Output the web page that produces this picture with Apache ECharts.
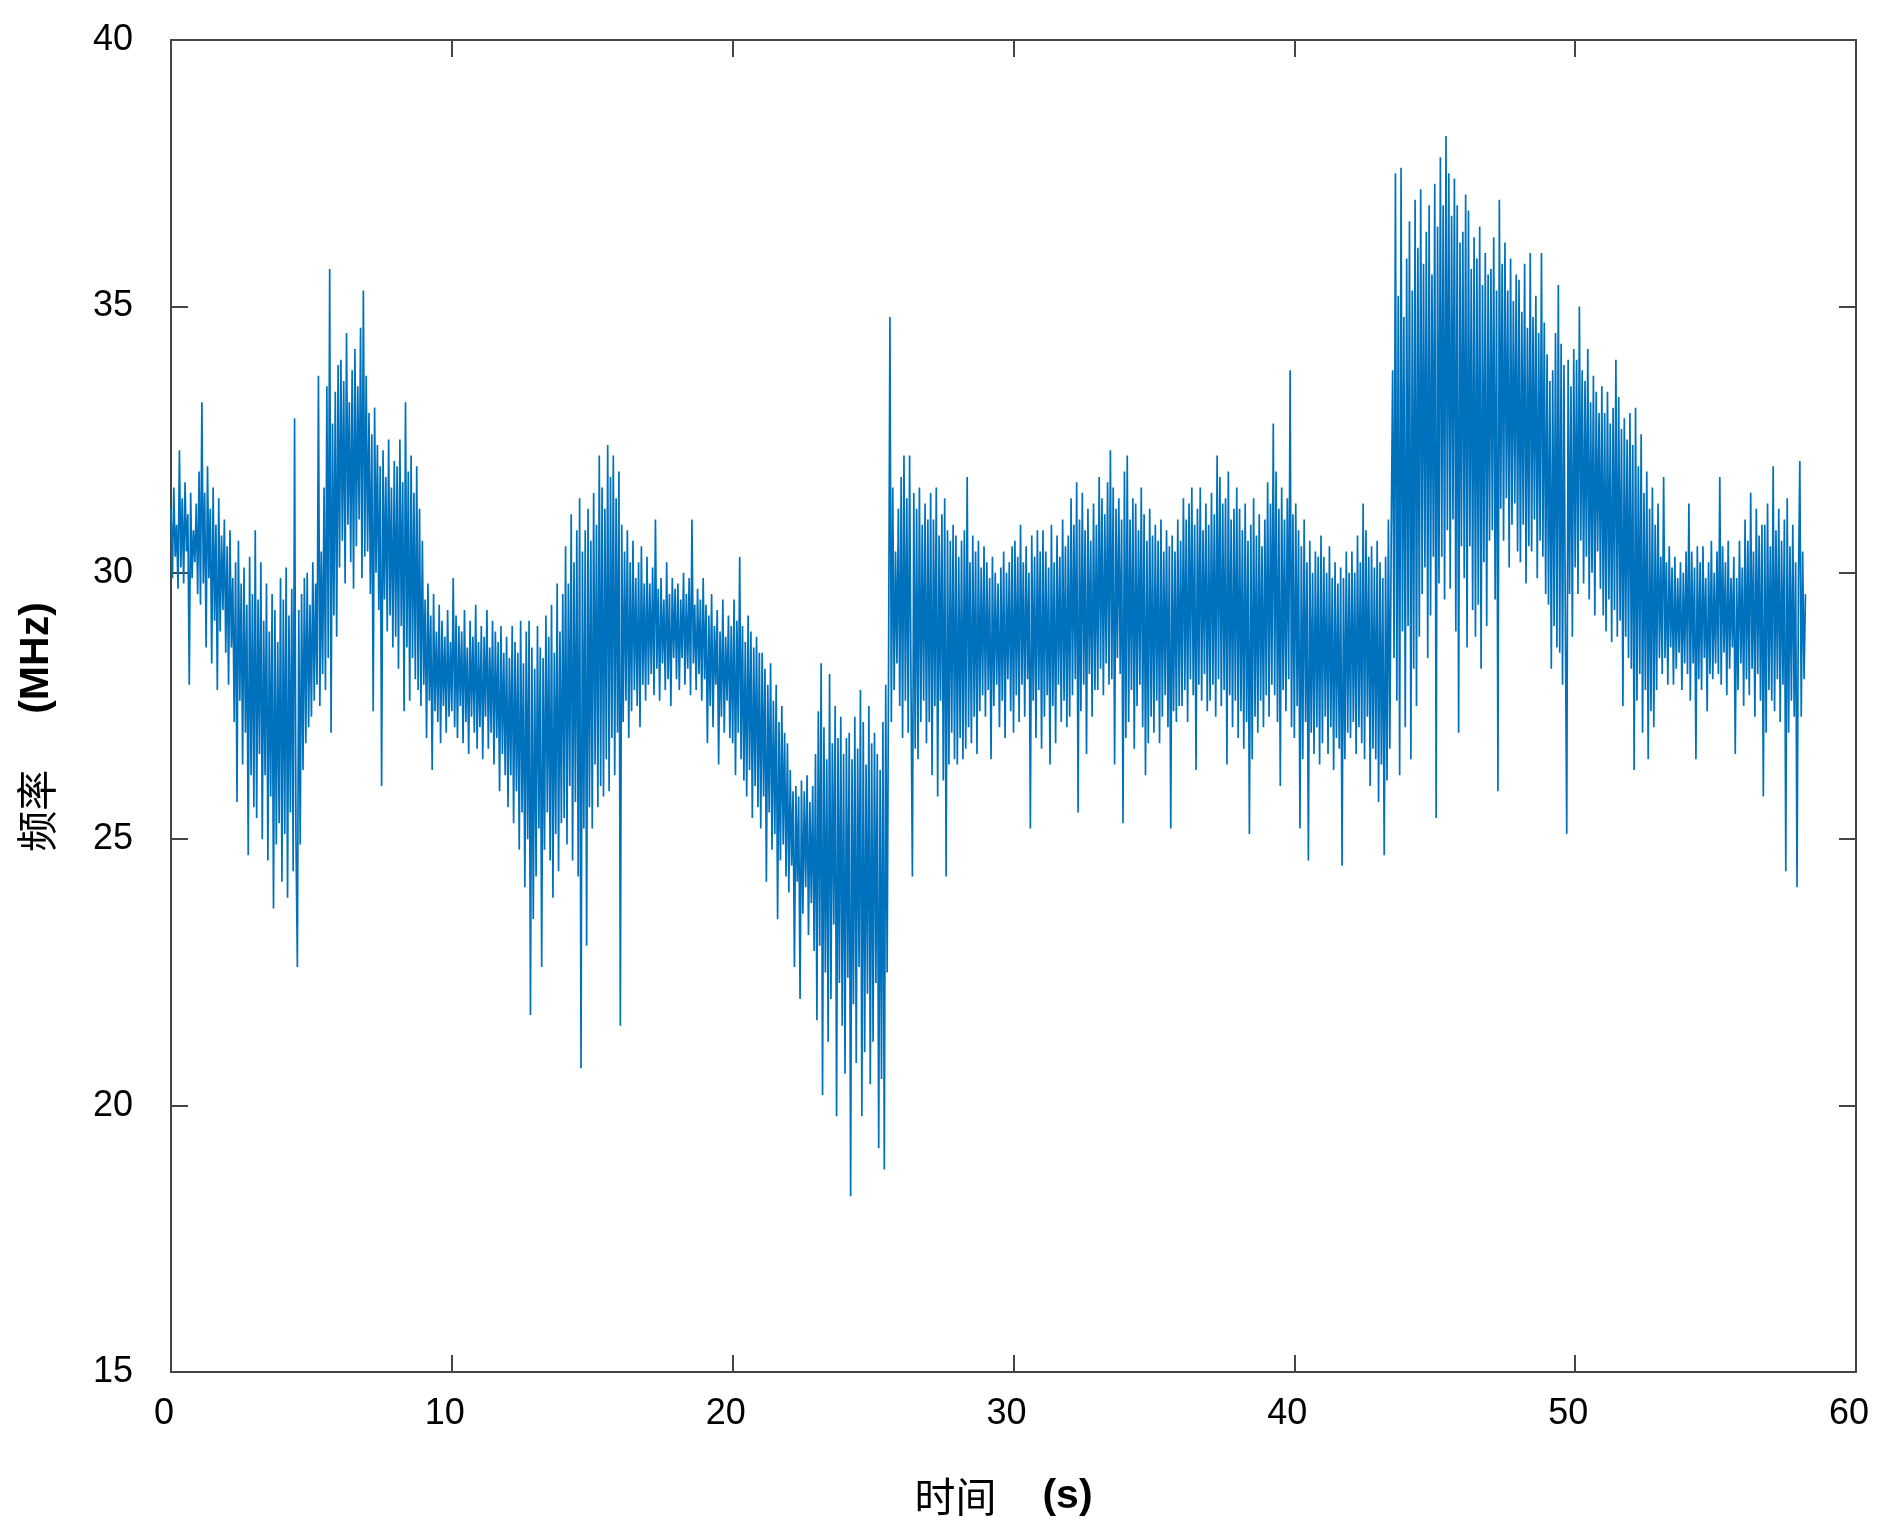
<!DOCTYPE html>
<html>
<head>
<meta charset="utf-8">
<script src="https://cdn.jsdelivr.net/npm/echarts@6/dist/echarts.min.js"></script>
<style>
html,body{margin:0;padding:0;background:#fff;}
#chart{width:1883px;height:1534px;}
</style>
</head>
<body>
<div id="chart"></div>
<script>
// sampling step of the time axis (s)
const sampleStep = 0.05;
// frequency readings (MHz), one 5-second block per array (20 readings per second)
const blk00 = [
31.2,29.9,31.6,30.3,30.9,29.7,32.3,30.1,31.4,29.8,31.7,30.4,31.1,27.9,31.5,29.9,30.8,30.2,31.3,29.6,
31.9,29.4,33.2,29.8,31.5,28.6,32.0,29.9,31.2,28.3,31.6,29.1,30.9,27.8,31.4,28.9,30.7,29.3,31.0,28.5,
30.5,27.9,30.8,28.6,29.9,27.2,30.2,25.7,30.6,27.6,29.8,26.4,30.1,27.0,29.4,24.7,30.3,26.2,29.6,25.6,
30.8,25.4,29.5,26.6,30.2,25.0,29.1,26.2,29.8,24.6,28.9,25.8,29.6,23.7,29.3,24.9,28.7,25.3,29.9,24.2,
29.5,25.1,30.1,23.9,29.2,25.5,29.7,24.4,32.9,25.0,22.6,29.3,24.9,29.6,26.3,29.9,26.8,30.0,27.1,29.4];
const blk05 = [
27.3,30.2,27.6,29.8,27.9,33.7,27.5,30.4,28.1,31.6,27.8,33.5,28.4,35.7,27.0,32.8,29.2,33.4,28.8,33.9,
30.1,34.0,30.6,33.6,29.8,34.5,30.9,33.2,30.2,33.8,29.7,34.2,30.5,33.5,31.0,34.6,29.9,35.3,30.3,33.7,
30.4,33.0,29.6,32.6,27.4,33.1,30.0,32.4,29.3,32.0,26.0,32.3,29.5,31.8,28.9,32.5,29.2,31.6,28.6,32.1,
28.8,32.0,28.2,32.5,29.0,31.7,27.4,33.2,28.6,31.9,27.6,32.2,28.4,31.5,28.0,32.0,27.8,31.2,27.5,30.6,
27.9,29.5,26.9,29.8,27.6,29.2,26.3,29.6,27.4,28.9,27.2,29.4,26.8,29.1,27.5,28.8,27.0,29.3,27.3,28.7];
const blk10 = [
27.4,29.9,27.1,29.2,26.9,29.0,27.5,28.9,26.8,29.3,27.2,28.6,26.6,29.1,27.3,28.8,27.0,29.4,26.7,28.7,
27.1,29.0,26.5,28.8,27.3,29.3,26.7,28.6,27.0,29.1,26.4,28.9,26.9,28.7,25.9,29.0,26.6,28.5,26.2,28.8,
25.6,28.4,26.2,29.0,25.3,28.7,25.9,28.5,24.8,29.1,25.5,28.3,24.1,28.9,25.0,29.1,21.7,28.6,23.5,28.2,
24.3,29.0,25.2,28.6,22.6,28.4,24.8,29.2,25.5,28.8,24.6,29.4,23.9,28.5,25.1,29.8,24.4,28.9,25.3,29.6,
25.4,30.5,24.9,29.8,26.0,31.1,24.6,30.2,25.7,30.8,24.3,31.4,20.7,30.4,25.2,30.8,23.0,31.2,25.6,30.6];
const blk15 = [
25.2,31.5,26.4,30.9,25.6,32.2,26.0,31.6,25.8,31.2,26.5,32.4,25.9,31.8,26.9,32.2,26.2,31.4,27.0,31.9,
21.5,30.9,27.2,30.4,27.6,30.8,26.9,30.2,27.4,30.6,27.8,29.9,27.5,30.2,27.1,30.5,27.9,29.8,27.6,30.3,
27.9,29.8,28.1,30.1,27.7,31.0,28.2,29.7,27.6,29.9,28.3,29.5,27.8,30.2,28.0,29.6,27.5,29.9,28.4,29.7,
28.0,29.8,27.8,29.5,28.4,30.0,27.9,29.6,28.2,29.9,27.7,31.0,28.3,29.4,27.8,29.7,28.1,29.5,27.6,29.9,
28.0,29.4,26.8,29.2,27.5,29.6,27.1,29.0,27.9,29.3,26.4,28.9,27.3,29.5,27.0,28.8,27.6,29.2,26.9,29.0];
const blk20 = [
26.8,29.5,26.2,29.1,27.0,30.3,26.5,29.0,26.1,28.7,25.8,29.2,26.3,28.9,25.4,28.6,26.0,28.8,25.6,28.5,
25.2,28.5,25.8,28.2,24.2,27.9,25.5,28.3,24.8,27.6,25.1,27.9,23.5,27.2,24.6,27.5,24.9,27.0,24.3,26.8,
24.0,26.3,24.5,25.9,22.6,26.0,24.2,25.8,22.0,26.1,23.6,25.9,24.1,26.2,23.2,25.7,23.8,26.0,22.9,26.6,
21.6,27.4,23.0,28.3,20.2,27.1,22.5,26.5,21.2,28.1,22.0,26.8,23.4,27.5,19.8,26.9,22.3,27.3,21.5,26.6,
20.6,26.9,22.4,27.0,18.3,26.5,21.9,27.3,20.8,26.7,22.6,27.8,19.8,27.2,21.0,26.4,22.1,27.5,20.4,26.8];
const blk25 = [
21.2,27.0,22.3,26.6,19.2,26.3,20.5,27.2,18.8,27.9,22.5,28.1,34.8,27.2,31.6,27.8,30.4,28.3,31.2,27.5,
31.8,26.9,32.2,27.6,31.4,27.0,32.2,27.9,24.3,31.5,26.7,31.2,26.5,31.6,27.2,30.9,27.6,31.3,26.8,31.0,
27.2,31.5,26.2,31.0,27.5,31.6,25.8,30.7,27.6,31.1,26.1,31.4,24.3,30.8,26.4,30.6,27.0,30.9,26.5,30.7,
26.4,30.3,26.9,30.6,26.5,30.8,26.7,31.8,27.1,30.2,26.8,30.7,27.3,30.4,26.6,30.6,27.4,30.1,27.7,30.5,
27.3,30.2,27.8,29.9,26.5,30.3,27.5,30.0,27.9,29.8,27.1,30.1,27.6,30.4,26.9,30.0,28.0,30.2,27.4,30.5];
const blk30 = [
27.0,30.6,27.7,30.3,27.2,30.9,27.9,30.2,27.3,30.5,28.0,30.0,25.2,30.7,27.6,30.3,26.9,30.8,27.8,30.4,
26.7,30.8,27.3,30.4,27.7,30.1,26.4,30.9,27.5,30.2,26.8,30.7,27.9,30.3,27.2,31.0,27.6,30.5,27.1,30.7,
27.3,31.4,27.7,30.9,28.0,31.7,25.5,31.0,27.4,31.5,27.9,30.8,26.6,31.2,28.1,30.6,27.3,31.3,27.8,30.9,
27.8,31.8,28.2,31.4,27.7,31.1,28.3,31.7,27.9,32.3,28.0,31.6,26.4,31.2,28.4,31.4,28.1,31.0,25.3,31.9,
26.9,32.2,27.2,31.0,27.8,31.4,26.7,31.3,27.5,30.8,27.9,31.6,27.1,31.1,26.2,30.6,26.8,31.2,27.3,30.7];
const blk35 = [
27.0,30.9,27.6,30.6,26.8,31.0,27.3,30.4,27.7,30.8,27.1,30.5,25.2,30.7,27.4,30.4,27.2,31.0,27.5,30.6,
27.5,31.4,27.8,31.0,27.2,31.3,28.0,31.6,27.7,30.9,26.3,31.2,27.9,31.6,27.6,30.8,28.1,31.3,27.4,30.9,
27.6,31.5,27.9,31.1,27.3,32.2,28.0,31.8,27.5,31.3,27.8,31.4,26.4,31.9,27.7,31.0,27.1,31.2,27.6,31.6,
26.9,31.2,27.4,30.8,26.7,31.3,27.2,30.6,25.1,30.9,26.5,31.4,27.3,30.7,27.0,31.1,27.6,30.5,27.1,31.0,
27.7,31.7,27.3,31.3,27.9,32.8,27.7,31.9,27.2,31.2,26.0,31.6,27.8,31.0,27.4,31.4,28.0,33.8,27.1,31.1];
const blk40 = [
26.9,31.3,27.5,30.8,25.2,30.5,26.5,31.0,27.2,30.2,24.6,30.6,27.0,30.0,26.6,30.4,27.1,30.3,26.4,30.7,
26.8,30.3,27.3,30.0,26.6,30.5,27.1,29.9,26.3,30.2,26.9,29.8,26.7,30.1,24.5,29.9,26.5,30.4,27.0,30.0,
26.9,30.4,27.2,30.0,26.6,30.7,27.1,30.2,26.8,31.3,26.5,30.8,27.3,30.3,26.0,30.5,26.7,30.1,26.5,30.6,
25.7,30.2,26.4,29.9,24.7,30.3,26.1,31.0,26.7,30.7,33.8,28.4,37.5,27.6,35.2,26.2,37.6,28.9,34.8,27.1,
35.9,29.0,36.6,26.5,35.3,28.2,37.0,27.5,36.1,28.8,37.2,29.6,35.8,30.1,36.4,28.4,36.9,29.2,35.6,30.3];
const blk45 = [
37.3,25.4,36.5,29.8,37.8,30.3,36.9,29.5,38.2,30.8,37.5,29.7,36.7,31.0,37.4,28.9,36.9,27.0,36.2,30.5,
36.4,29.9,37.1,28.6,36.8,30.5,35.7,29.3,36.3,28.8,35.9,29.4,36.5,28.2,35.4,30.2,36.0,29.0,35.6,30.6,
35.7,30.8,36.3,29.5,35.3,25.9,37.0,31.2,35.8,30.6,36.2,31.4,35.3,30.1,35.9,30.9,35.1,31.3,35.6,30.4,
35.5,30.2,34.9,30.9,35.8,29.8,34.6,30.5,36.0,30.4,34.8,31.0,35.2,29.9,34.5,30.6,36.0,30.3,34.7,29.6,
34.1,29.4,33.6,28.2,33.8,29.0,34.5,28.6,35.4,28.5,34.3,27.9,33.9,29.1,25.1,34.0,29.6,33.5,28.8,34.2];
const blk50 = [
30.1,34.0,29.6,35.0,30.6,33.8,29.8,33.6,30.3,34.2,29.5,33.2,30.0,33.7,29.2,33.4,30.4,33.0,29.7,33.5,
29.2,33.0,28.9,33.4,29.5,32.8,28.7,33.1,29.3,34.0,28.8,33.3,29.1,32.7,27.5,32.9,28.8,32.5,28.4,33.0,
28.2,32.4,26.3,33.1,27.6,32.0,28.1,32.6,27.0,31.5,27.8,31.9,26.5,31.2,27.4,31.6,27.1,30.9,27.8,31.3,
28.4,30.3,28.1,31.8,28.4,30.2,27.9,30.5,28.6,30.1,27.9,30.3,28.2,29.9,28.5,30.2,27.8,30.0,28.3,30.4,
28.1,31.3,27.6,30.4,28.3,30.1,26.5,30.5,28.0,30.2,27.8,30.5,28.4,29.9,27.4,30.2,28.1,30.6,28.0,30.0];
const blk55 = [
28.3,30.4,28.1,31.8,27.9,30.5,28.5,30.2,27.7,30.6,28.2,29.9,28.6,30.3,26.6,29.9,27.8,30.6,28.3,30.1,
27.5,31.0,28.0,30.6,27.7,31.5,28.2,30.4,27.3,31.2,28.1,30.7,27.6,30.9,25.8,30.9,27.0,31.3,27.8,30.5,
27.6,32.0,27.4,30.8,28.0,31.2,27.2,30.6,27.9,31.0,24.4,31.4,27.0,30.5,27.6,30.9,27.3,30.2,24.1,29.8,
32.1,27.3,30.4,28.0,29.6];

const xTicks = {min: 0, max: 60, interval: 10};
const yTicks = {min: 15, max: 40, interval: 5};

const values = [].concat(blk00, blk05, blk10, blk15, blk20, blk25, blk30, blk35, blk40, blk45, blk50, blk55);
const points = values.map((v, i) => [Math.round(i * sampleStep * 100) / 100, v]);

const axisColor = '#454545';
const labelFont = 'Liberation Sans, Arial, sans-serif';
const cjkFont = 'Noto Sans CJK SC';

const chart = echarts.init(document.getElementById('chart'), null, {renderer: 'canvas'});
chart.setOption({
  animation: false,
  backgroundColor: '#ffffff',
  grid: {left: 171, top: 40, right: 27, bottom: 162, outerBoundsMode: 'none'},
  xAxis: [{
    type: 'value', position: 'bottom',
    min: xTicks.min, max: xTicks.max, interval: xTicks.interval,
    axisLine: {show: true, onZero: false, lineStyle: {color: axisColor, width: 2}},
    axisTick: {show: true, inside: true, length: 17, lineStyle: {color: axisColor, width: 2}},
    axisLabel: {show: true, color: '#000', fontSize: 36, fontFamily: labelFont, margin: 24, padding: [0, 14, 0, 0]},
    splitLine: {show: false},
    name: '{a|时间}{b|(s)}',
    nameLocation: 'middle',
    nameGap: 104,
    nameTextStyle: {
      padding: [0, 20, 0, 0],
      rich: {
        a: {fontFamily: cjkFont, fontSize: 41, color: '#000'},
        b: {fontFamily: labelFont, fontSize: 41, fontWeight: 'bold', color: '#000', padding: [0, 0, 0, 46]}
      }
    }
  }, {
    type: 'value', position: 'top',
    min: xTicks.min, max: xTicks.max, interval: xTicks.interval,
    axisLine: {show: true, onZero: false, lineStyle: {color: axisColor, width: 2}},
    axisTick: {show: true, inside: true, length: 17, lineStyle: {color: axisColor, width: 2}},
    axisLabel: {show: false},
    splitLine: {show: false}
  }],
  yAxis: [{
    type: 'value', position: 'left',
    min: yTicks.min, max: yTicks.max, interval: yTicks.interval,
    axisLine: {show: true, onZero: false, lineStyle: {color: axisColor, width: 2}},
    axisTick: {show: true, inside: true, length: 17, lineStyle: {color: axisColor, width: 2}},
    axisLabel: {show: true, color: '#000', fontSize: 36, fontFamily: labelFont, margin: 38, padding: [0, 0, 18, 0]},
    splitLine: {show: false},
    name: '{a|频率}{b|(MHz)}',
    nameLocation: 'middle',
    nameGap: 114,
    nameRotate: 90,
    nameTextStyle: {
      padding: [0, 42, 0, 0],
      rich: {
        a: {fontFamily: cjkFont, fontSize: 41, color: '#000'},
        b: {fontFamily: labelFont, fontSize: 41, fontWeight: 'bold', color: '#000', padding: [0, 0, 0, 56]}
      }
    }
  }, {
    type: 'value', position: 'right',
    min: yTicks.min, max: yTicks.max, interval: yTicks.interval,
    axisLine: {show: true, onZero: false, lineStyle: {color: axisColor, width: 2}},
    axisTick: {show: true, inside: true, length: 17, lineStyle: {color: axisColor, width: 2}},
    axisLabel: {show: false},
    splitLine: {show: false}
  }],
  series: [{
    type: 'line',
    xAxisIndex: 0, yAxisIndex: 0,
    data: points,
    showSymbol: false,
    symbol: 'none',
    sampling: false,
    lineStyle: {color: '#0072BD', width: 1.7},
    clip: true,
    z: 1
  }]
});
</script>
</body>
</html>
